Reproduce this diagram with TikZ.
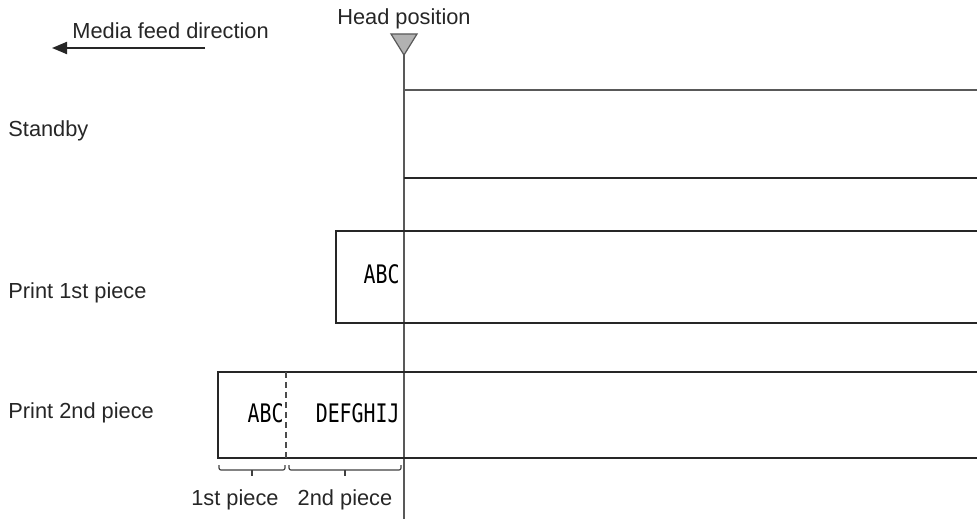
\documentclass[tikz,border=0pt]{standalone}
\usepackage{fontspec}
\setmainfont{Liberation Sans}
\newfontfamily\gothic[FakeStretch=0.78]{DejaVu Sans Mono}
\usepackage{tikz}
\usetikzlibrary{arrows.meta,positioning,calc}

\begin{document}
\begin{tikzpicture}[
    x=0.5pt, y=-0.5pt,
    lbl/.style={font=\fontsize{10.9}{13}\selectfont, text=black!85, inner sep=0pt, anchor=base west},
    mono/.style={font=\gothic\fontsize{12.75}{15}\selectfont, inner sep=0pt, anchor=base east},
    tape/.style={draw=black!85, line width=0.85pt},
    head/.style={draw=black!65, line width=0.85pt},
    arr/.style={-{Triangle[length=7.5pt, width=6pt]}, draw=black!85, line width=1pt},
    bracket/.style={draw=black!75, line width=0.6pt, rounded corners=1pt},
]
    \useasboundingbox (0,0) rectangle (977,519);

    % Feed direction
    \node[lbl] (feedtxt) at (72,39) {Media feed direction};
    \coordinate (feedstart) at (205,48);
    \coordinate (feedend) at (52,48);
    \draw[arr] (feedstart) -- (feedend);

    % Head
    \node[lbl, anchor=base] (headtxt) at (404,25) {Head position};
    \coordinate (apex) at (404,55);
    \coordinate (headend) at (404,519);
    \draw[draw=black!65, fill=black!30, line width=0.6pt] (apex) -- ++(-13,-21) -- ++(26,0) -- cycle;
    \draw[head] (apex) -- (headend);

    % Standby
    \node[lbl] (standby) at (8,136) {Standby};
    \draw[head] (404,90) -- (977,90);
    \draw[tape] (404,178) -- (977,178);

    % Print 1st piece
    \node[lbl] (first) at (8,298) {Print 1st piece};
    \draw[tape] (977,231) -- (336,231) -- (336,323) -- (977,323);
    \node[mono] (abc1) at (400,283) {ABC};

    % Print 2nd piece
    \node[lbl] (second) at (8,418) {Print 2nd piece};
    \draw[tape] (977,372) -- (218,372) -- (218,458) -- (977,458);
    \draw[draw=black!70, line width=0.6pt, dash pattern=on 3pt off 2pt] (286,372) -- (286,458);
    \node[mono] (abc2) at (284,422) {ABC};
    \node[mono] (defg) at (400,422) {DEFGHIJ};

    % Pieces
    \draw[bracket] (219,465) |- (285,470) -- (285,465);
    \draw[bracket] (252,470) -- (252,476);
    \draw[bracket] (289,465) |- (401,470) -- (401,465);
    \draw[bracket] (345,470) -- (345,476);
    \node[lbl, anchor=base] (p1) at (235,505) {1st piece};
    \node[lbl, anchor=base] (p2) at (345,505) {2nd piece};
\end{tikzpicture}
\end{document}
